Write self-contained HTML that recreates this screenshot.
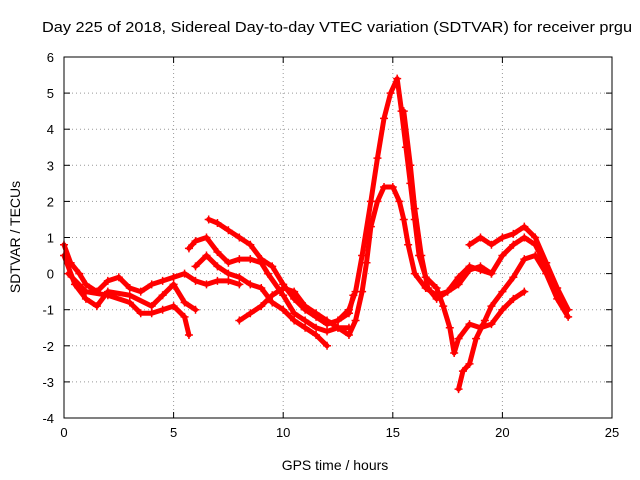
<!DOCTYPE html>
<html><head><meta charset="utf-8"><style>
body{margin:0;background:#fff}
svg{display:block;font-family:"Liberation Sans",sans-serif}
</style></head><body>
<svg id="chart" width="640" height="480" viewBox="0 0 640 480">
<text x="42" y="32" font-size="15" textLength="590" lengthAdjust="spacingAndGlyphs">Day 225 of 2018, Sidereal Day-to-day VTEC variation (SDTVAR) for receiver prgu</text>
<text x="335" y="470" font-size="14" text-anchor="middle">GPS time / hours</text>
<text transform="translate(20,237) rotate(-90)" font-size="14" text-anchor="middle">SDTVAR / TECUs</text>
<g id="grid"></g><g id="axes"></g><g id="marks"></g>
<rect x="64" y="57" width="548" height="361" fill="none" stroke="#000" stroke-width="1"/>
</svg>
<script>
const xTicks=[0,5,10,15,20,25];
const yTicks=[-4,-3,-2,-1,0,1,2,3,4,5,6];
const trackA=[[0,0.8],[0.3,0.3],[0.7,0],[1,-0.3],[1.5,-0.5],[2,-0.2],[2.5,-0.1],[3,-0.4],[3.5,-0.5],[4,-0.3],[4.5,-0.2],[5,-0.1],[5.5,0],[6,-0.2],[6.5,-0.3],[7,-0.2],[7.5,-0.2],[8,-0.3]];
const trackB=[[0,0.5],[0.5,-0.3],[1,-0.7],[1.5,-0.9],[2,-0.5],[3,-0.6],[4,-0.9],[4.5,-0.6],[5,-0.3],[5.5,-0.8],[6,-1]];
const trackC=[[0.2,0],[1,-0.5],[2,-0.6],[3,-0.8],[3.5,-1.1],[4,-1.1],[4.5,-1.0],[5,-0.9],[5.5,-1.2],[5.7,-1.7]];
const trackD=[[6.6,1.5],[7,1.4],[7.5,1.2],[8,1.0],[8.5,0.8],[9,0.4],[9.5,0.2],[10,-0.3],[10.5,-0.7],[11,-1.0],[11.5,-1.2],[12,-1.4],[12.5,-1.3],[13,-1.1],[13.2,-0.6]];
const trackE=[[5.7,0.7],[6,0.9],[6.5,1.0],[7,0.6],[7.5,0.3],[8,0.4],[8.5,0.4],[9,0.3],[9.3,0.0],[10,-0.6],[10.5,-1.1],[11,-1.3],[11.5,-1.5],[12,-1.6],[12.5,-1.5],[13,-1.5]];
const trackF=[[6,0.2],[6.5,0.5],[7,0.2],[7.5,0.0],[8,-0.1],[8.5,-0.3],[9,-0.4],[9.5,-0.8],[10,-1.0],[10.5,-1.3],[11,-1.5],[11.5,-1.7],[12,-2.0]];
const trackG=[[8,-1.3],[8.5,-1.1],[9,-0.9],[9.5,-0.6],[10,-0.4],[10.5,-0.5],[11,-0.9],[11.5,-1.1],[12,-1.3],[12.5,-1.5],[13,-1.7],[13.3,-1.3],[13.6,-0.5],[13.8,0.3],[14,1.3],[14.3,2.0],[14.6,2.4],[15,2.4],[15.3,2.0],[15.5,1.5],[15.7,0.8],[16,0.0],[16.5,-0.4],[17,-0.6],[17.5,-0.5],[18,-0.3],[18.5,0.1],[19,0.2],[19.5,0.0]];
const trackH=[[12.5,-1.3],[13,-1.0],[13.3,-0.5],[13.6,0.5],[14,2.0],[14.3,3.2],[14.6,4.3],[14.9,5.0],[15.2,5.4],[15.4,4.5],[15.6,3.5],[15.8,2.5],[16,1.5],[16.2,0.5],[16.5,-0.1],[17,-0.4],[17.3,-0.9],[17.6,-1.5],[17.8,-2.2],[18,-1.8],[18.5,-1.4],[19,-1.5],[19.5,-1.4],[20,-1.0],[20.5,-0.7],[21,-0.5]];
const trackI=[[15.5,4.5],[15.8,3.0],[16,1.8],[16.3,0.5],[16.6,-0.4],[17,-0.7],[17.5,-0.5],[18,-0.1],[18.5,0.2],[19,0.1],[19.5,0.0],[20,0.5],[20.5,0.8],[21,1.0],[21.5,0.8],[22,0.2],[22.5,-0.5],[23,-1.0]];
const trackJ=[[18,-3.2],[18.2,-2.7],[18.5,-2.5],[18.8,-1.8],[19.2,-1.3],[19.5,-0.9],[20,-0.5],[20.5,-0.1],[21,0.4],[21.5,0.5],[22,0.0],[22.5,-0.7],[23,-1.2]];
const trackK=[[18.5,0.8],[19,1.0],[19.5,0.8],[20,1.0],[20.5,1.1],[21,1.3],[21.5,1.0],[22,0.3],[22.5,-0.4],[23,-1.0]];
const tracks=[trackA,trackB,trackC,trackD,trackE,trackF,trackG,trackH,trackI,trackJ,trackK];

const NS="http://www.w3.org/2000/svg";
const X0=64,X1=612,Y0=418,Y1=57;
const xs=v=>X0+(v-0)/(25-0)*(X1-X0);
const ys=v=>Y0-(v+4)/(6+4)*(Y0-Y1);
function mk(tag,attrs,parent){const e=document.createElementNS(NS,tag);for(const k in attrs)e.setAttribute(k,attrs[k]);parent.appendChild(e);return e;}
const grid=document.getElementById('grid'),axes=document.getElementById('axes'),marks=document.getElementById('marks');
xTicks.forEach(t=>{const x=xs(t);
 if(t>0&&t<25){const g=mk('line',{x1:x,x2:x,y1:Y0,y2:Y1,stroke:'#999','stroke-dasharray':'1,3'},grid);
 
 }
 mk('line',{x1:x,x2:x,y1:Y0,y2:Y0-6,stroke:'#000'},axes);
 mk('line',{x1:x,x2:x,y1:Y1,y2:Y1+6,stroke:'#000'},axes);
 const l=mk('text',{x:x,y:Y0+19,'font-size':13,'text-anchor':'middle'},axes);l.textContent=t;
 
 
});
yTicks.forEach(t=>{const y=ys(t);
 if(t>-4&&t<6){const g=mk('line',{x1:X0,x2:X1,y1:y,y2:y,stroke:'#999','stroke-dasharray':'1,3'},grid);
 
 }
 mk('line',{x1:X0,x2:X0+6,y1:y,y2:y,stroke:'#000'},axes);
 mk('line',{x1:X1,x2:X1-6,y1:y,y2:y,stroke:'#000'},axes);
 const l=mk('text',{x:X0-10,y:y+5,'font-size':13,'text-anchor':'end'},axes);l.textContent=t;
 
 
});
tracks.forEach((tr,i)=>{
 const p=mk('polyline',{points:tr.map(d=>xs(d[0])+','+ys(d[1])).join(' '),fill:'none',stroke:'#f00','stroke-width':5,'stroke-linejoin':'round','stroke-linecap':'round'},marks);
 
 
 tr.forEach(d=>{const x=xs(d[0]),y=ys(d[1]);
  const m=mk('path',{d:`M${x-4},${y}H${x+4}M${x},${y-4}V${y+4}`,stroke:'#f00','stroke-width':1.5},marks);
  
  
 });
});
</script>
</body></html>
